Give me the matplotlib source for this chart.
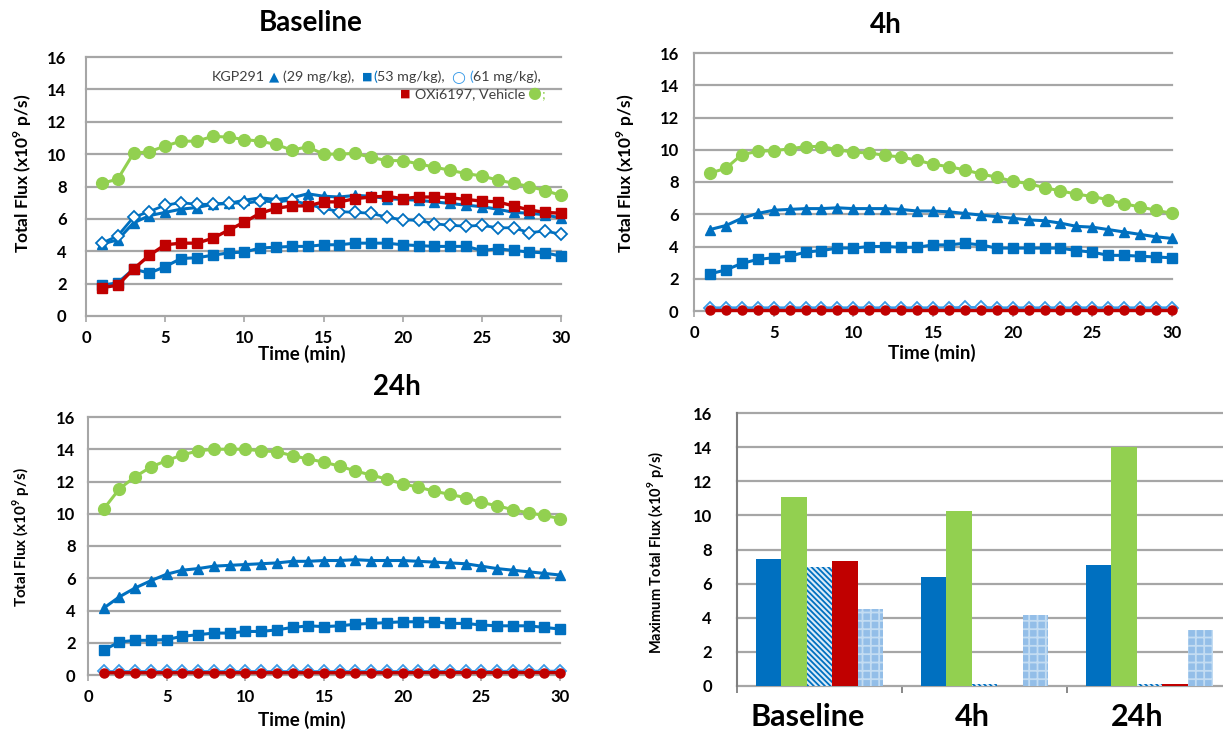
import matplotlib
matplotlib.use('Agg')
import matplotlib.pyplot as plt
import matplotlib.transforms as mtransforms
import numpy as np

plt.rcParams['font.family'] = ['Lato', 'DejaVu Sans']
plt.rcParams['font.weight'] = 'bold'
plt.rcParams['mathtext.fontset'] = 'custom'
plt.rcParams['mathtext.rm'] = 'Lato'
plt.rcParams['mathtext.bf'] = 'Lato:bold'
plt.rcParams['hatch.linewidth'] = 1.3

# ---- data ----
minutes = list(range(1, 31))

base_tri = [4.45, 4.7, 5.75, 6.2, 6.4, 6.6, 6.7, 6.9, 6.95, 7.15, 7.3, 7.2, 7.3, 7.55, 7.4,
            7.35, 7.45, 7.4, 7.25, 7.2, 7.15, 7.05, 6.95, 6.85, 6.75, 6.6, 6.4, 6.35, 6.25, 6.05]
base_sq = [1.9, 2.05, 2.9, 2.65, 3.05, 3.55, 3.6, 3.75, 3.9, 3.95, 4.2, 4.25, 4.3, 4.3, 4.4,
           4.4, 4.5, 4.5, 4.5, 4.4, 4.35, 4.3, 4.3, 4.3, 4.05, 4.15, 4.05, 3.95, 3.9, 3.7]
base_dia = [4.5, 4.95, 6.1, 6.45, 6.85, 7.0, 6.9, 6.9, 7.0, 6.95, 7.1, 7.05, 7.15, 6.9, 6.65,
            6.45, 6.4, 6.35, 6.1, 5.95, 5.9, 5.7, 5.6, 5.55, 5.6, 5.45, 5.45, 5.15, 5.25, 5.05]
base_oxi = [1.75, 1.9, 2.9, 3.75, 4.4, 4.5, 4.5, 4.8, 5.3, 5.8, 6.35, 6.65, 6.8, 6.8, 7.05,
            7.05, 7.25, 7.35, 7.4, 7.25, 7.35, 7.35, 7.3, 7.2, 7.1, 7.05, 6.8, 6.55, 6.4, 6.35]
base_veh = [8.2, 8.45, 10.05, 10.15, 10.5, 10.8, 10.8, 11.1, 11.05, 10.9, 10.8, 10.6, 10.25, 10.45, 10.0,
            10.0, 10.05, 9.8, 9.6, 9.6, 9.4, 9.2, 9.0, 8.8, 8.65, 8.4, 8.2, 8.0, 7.75, 7.45]

h4_tri = [5.05, 5.3, 5.75, 6.05, 6.25, 6.3, 6.35, 6.35, 6.4, 6.35, 6.35, 6.35, 6.3, 6.2, 6.2,
          6.15, 6.05, 5.95, 5.85, 5.75, 5.65, 5.6, 5.45, 5.25, 5.2, 5.05, 4.9, 4.75, 4.6, 4.5]
h4_sq = [2.3, 2.55, 2.95, 3.2, 3.3, 3.4, 3.65, 3.75, 3.9, 3.9, 4.0, 4.0, 3.95, 3.95, 4.1,
         4.1, 4.2, 4.1, 3.9, 3.9, 3.9, 3.9, 3.9, 3.75, 3.65, 3.45, 3.45, 3.4, 3.35, 3.3]
h4_dia = [0.2, 0.2, 0.2, 0.2, 0.2, 0.2, 0.2, 0.2, 0.2, 0.2, 0.2, 0.2, 0.2, 0.2, 0.2,
          0.2, 0.22, 0.22, 0.2, 0.2, 0.2, 0.2, 0.2, 0.2, 0.2, 0.2, 0.2, 0.2, 0.2, 0.2]
h4_oxi = [0.08, 0.08, 0.08, 0.08, 0.08, 0.08, 0.08, 0.08, 0.08, 0.08, 0.08, 0.08, 0.08, 0.08, 0.08,
          0.08, 0.08, 0.08, 0.08, 0.08, 0.08, 0.08, 0.08, 0.08, 0.08, 0.08, 0.08, 0.08, 0.08, 0.08]
h4_veh = [8.55, 8.85, 9.7, 9.9, 9.95, 10.05, 10.2, 10.2, 10.0, 9.85, 9.8, 9.65, 9.55, 9.35, 9.1,
          8.95, 8.75, 8.5, 8.3, 8.05, 7.9, 7.65, 7.45, 7.25, 7.1, 6.9, 6.65, 6.45, 6.25, 6.05]

h24_tri = [4.15, 4.85, 5.4, 5.85, 6.25, 6.5, 6.6, 6.75, 6.8, 6.85, 6.9, 6.95, 7.05, 7.05, 7.1,
           7.1, 7.15, 7.1, 7.1, 7.1, 7.05, 7.0, 6.95, 6.9, 6.75, 6.6, 6.5, 6.4, 6.3, 6.2]
h24_sq = [1.55, 2.05, 2.15, 2.15, 2.2, 2.4, 2.5, 2.6, 2.6, 2.7, 2.7, 2.8, 2.95, 3.05, 3.0,
          3.05, 3.15, 3.2, 3.25, 3.3, 3.3, 3.3, 3.2, 3.2, 3.1, 3.05, 3.05, 3.05, 2.95, 2.85]
h24_dia = [0.22, 0.22, 0.22, 0.22, 0.22, 0.22, 0.22, 0.22, 0.22, 0.22, 0.22, 0.22, 0.22, 0.22, 0.22,
           0.22, 0.22, 0.22, 0.22, 0.22, 0.22, 0.22, 0.22, 0.22, 0.22, 0.22, 0.24, 0.24, 0.24, 0.24]
h24_oxi = [0.14, 0.14, 0.14, 0.14, 0.14, 0.14, 0.14, 0.14, 0.14, 0.14, 0.14, 0.14, 0.14, 0.14, 0.14,
           0.14, 0.14, 0.14, 0.14, 0.14, 0.15, 0.15, 0.15, 0.15, 0.15, 0.15, 0.15, 0.15, 0.15, 0.15]
h24_veh = [10.3, 11.55, 12.3, 12.9, 13.3, 13.65, 13.9, 14.0, 14.0, 14.0, 13.9, 13.85, 13.6, 13.4, 13.2,
           12.95, 12.65, 12.4, 12.15, 11.85, 11.65, 11.4, 11.2, 11.0, 10.7, 10.5, 10.25, 10.05, 9.9, 9.7]

groups = ['Baseline', '4h', '24h']
max_29 = [7.44, 6.38, 7.1]
max_veh = [11.08, 10.24, 14.0]
max_61 = [6.95, 0.12, 0.12]
max_oxi = [7.3, 0.0, 0.1]
max_53 = [4.49, 4.15, 3.27]

BLUE = '#0070C0'
LBLUE = '#3A9BE8'
GREEN = '#92D050'
RED = '#C00000'
GRID = '#A6A6A6'

W, H = 1223, 735
fig = plt.figure(figsize=(W / 100, H / 100), dpi=100)
renderer = fig.canvas.get_renderer()


def box(l, t, r, b):
    return [l / W, 1 - b / H, (r - l) / W, (b - t) / H]


def px(x, y):
    return x / W, 1 - y / H


def style_line_axes(ax, ypad):
    ax.set_xlim(0, 30)
    ax.set_ylim(0, 16)
    ax.set_xticks(range(0, 31, 5))
    ax.set_yticks(range(0, 17, 2))
    ax.grid(axis='y', color=GRID, lw=1.6)
    for gl in ax.get_ygridlines():
        gl.set_clip_on(False)
    ax.set_axisbelow(True)
    for s in ['top', 'right', 'bottom']:
        ax.spines[s].set_visible(False)
    ax.spines['left'].set_color(GRID)
    ax.spines['left'].set_linewidth(1.5)
    ax.tick_params(axis='y', length=0, pad=ypad, labelsize=12)
    ax.tick_params(axis='x', length=4, color=GRID, width=1.2, pad=6, labelsize=12)


def draw_series(ax, tri, sq, dia, oxi, veh, dia_edge, oxi_marker, oxi_ms):
    ax.plot(minutes, sq, color=BLUE, lw=2.2, marker='s', ms=7.5, clip_on=False, zorder=3)
    ax.plot(minutes, tri, color=BLUE, lw=2.2, marker='^', ms=7.5, clip_on=False, zorder=3)
    ax.plot(minutes, dia, color=dia_edge, lw=2.0, marker='D', ms=6, mfc='white',
            mec=dia_edge, mew=1.3, clip_on=False, zorder=3)
    ax.plot(minutes, oxi, color=RED, lw=2.4, marker=oxi_marker, ms=oxi_ms, clip_on=False, zorder=4)
    ax.plot(minutes, veh, color=GREEN, lw=2.2, marker='o', ms=8.5, clip_on=False, zorder=4)


ylab = r'Total Flux (x10$^{\mathbf{9}}$ p/s)'

# ---- Baseline ----
ax1 = fig.add_axes(box(86, 57, 561, 316))
style_line_axes(ax1, 14)
draw_series(ax1, base_tri, base_sq, base_dia, base_oxi, base_veh, BLUE, 's', 7)
fig.text(*px(311, 23), 'Baseline', ha='center', va='center', fontsize=20)
fig.text(*px(23, 173), ylab, ha='center', va='center', rotation=90, fontsize=12.5)
fig.text(*px(302, 354), 'Time (min)', ha='center', va='center', fontsize=13.5)

# legend-like annotation, laid out piece by piece
TXT = '#404040'


def note_row(x0, y, pieces, align='left'):
    items = []
    for s, color, size, family, gap in pieces:
        kw = dict(ha='left', va='center', fontsize=size, color=color, fontweight='normal')
        if family:
            kw['family'] = family
        t = fig.text(*px(0, y), s, **kw)
        wpx = t.get_window_extent(renderer).width
        items.append((t, wpx, gap))
    total = sum(wpx + gap for _, wpx, gap in items)
    x = x0 if align == 'left' else x0 - total
    for t, wpx, gap in items:
        t.set_x(x / W)
        x += wpx + gap


SYM = 'DejaVu Sans'
FS = 10.3
note_row(212, 77, [
    ('KGP291', TXT, FS, None, 4),
    ('\u25B2', BLUE, 9.5, SYM, 4),
    ('(29 mg/kg),', TXT, FS, None, 7),
    ('\u25A0', BLUE, 8, SYM, 1),
    ('(', BLUE, FS, None, 0),
    ('53 mg/kg),', TXT, FS, None, 7),
    ('\u25CB', LBLUE, 11.5, SYM, 4),
    ('(', LBLUE, FS, None, 0),
    ('61 mg/kg),', TXT, FS, None, 0),
])
note_row(545, 94, [
    ('\u25A0', RED, 8, SYM, 5),
    ('OXi6197, Vehicle', TXT, FS, None, 2),
    ('\u25CF', GREEN, 11.5, SYM, 0),
    (';', GREEN, FS, None, 0),
], align='right')

# ---- 4h ----
ax2 = fig.add_axes(box(694, 53, 1172, 311))
style_line_axes(ax2, 11)
draw_series(ax2, h4_tri, h4_sq, h4_dia, h4_oxi, h4_veh, LBLUE, 'o', 6.5)
fig.text(*px(886, 25), '4h', ha='center', va='center', fontsize=20)
fig.text(*px(626, 173), ylab, ha='center', va='center', rotation=90, fontsize=12.5)
fig.text(*px(932, 353), 'Time (min)', ha='center', va='center', fontsize=13.5)

# ---- 24h ----
ax3 = fig.add_axes(box(88, 417, 560, 675))
style_line_axes(ax3, 9)
draw_series(ax3, h24_tri, h24_sq, h24_dia, h24_oxi, h24_veh, LBLUE, 'o', 6.5)
fig.text(*px(397, 387), '24h', ha='center', va='center', fontsize=20)
fig.text(*px(21, 537), ylab, ha='center', va='center', rotation=90, fontsize=11)
fig.text(*px(302, 720), 'Time (min)', ha='center', va='center', fontsize=13.5)

# ---- bar chart of maxima ----
ax4 = fig.add_axes(box(737, 413, 1232, 686))
x = np.arange(len(groups))
w = 0.154
bar_specs = [
    (max_29, dict(color=BLUE)),
    (max_veh, dict(color=GREEN)),
    (max_61, dict(facecolor='#DCEBF8', edgecolor=BLUE, hatch='\\\\\\\\\\\\', linewidth=0)),
    (max_oxi, dict(color=RED)),
    (max_53, dict(facecolor='#93BEE8', edgecolor='#C3DCF2', hatch='++', linewidth=0)),
]
for i, (vals, kw) in enumerate(bar_specs):
    ax4.bar(x + (i - 2) * w, vals, width=w, zorder=3, **kw)
ax4.set_xlim(-0.5, 2.5)
ax4.set_ylim(0, 16)
ax4.set_yticks(range(0, 17, 2))
ax4.grid(axis='y', color=GRID, lw=1.6)
for gl in ax4.get_ygridlines():
    gl.set_clip_on(False)
ax4.set_axisbelow(True)
for s in ['top', 'right', 'bottom']:
    ax4.spines[s].set_visible(False)
ax4.spines['left'].set_color('#7F7F7F')
ax4.spines['left'].set_linewidth(1.5)
ax4.set_xticks(x)
ax4.set_xticklabels(groups)
ax4.set_xticks([-0.5, 0.5, 1.5, 2.5], minor=True)
ax4.tick_params(axis='x', which='major', length=0, labelsize=22, pad=12)
ax4.tick_params(axis='x', which='minor', length=5, color='#7F7F7F', width=1.3)
ax4.tick_params(axis='y', length=0, labelsize=12, pad=18)
shift = mtransforms.ScaledTranslation(-12 / 100, 0, fig.dpi_scale_trans)
for lab in ax4.get_xticklabels():
    lab.set_transform(lab.get_transform() + shift)
fig.text(*px(656, 552), r'Maximum Total Flux (x10$^{\mathbf{9}}$ p/s)', ha='center', va='center',
         rotation=90, fontsize=10.5)

fig.savefig('out.png', dpi=100)
